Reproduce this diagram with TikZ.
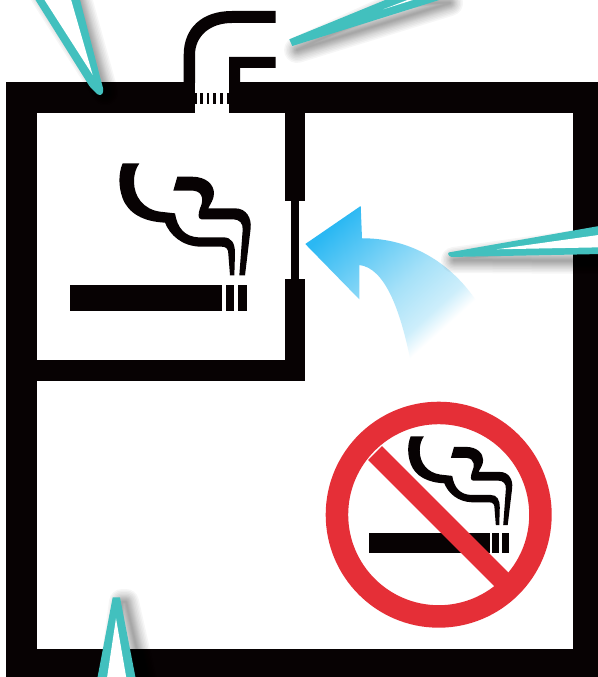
\documentclass[tikz,border=0pt]{standalone}
\definecolor{airA}{HTML}{2BB8F3}
\definecolor{airB}{HTML}{A6E1F8}
\definecolor{airC}{HTML}{CDEEFB}
\definecolor{wallk}{HTML}{070203}
\definecolor{teal}{HTML}{42C0BE}
\definecolor{signred}{HTML}{E52F37}
\pgfdeclarehorizontalshading{airflow}{240bp}{color(0bp)=(airA); color(25bp)=(airA); color(115bp)=(airB); color(155bp)=(airC); color(175bp)=(white); color(200bp)=(white)}
\tikzset{
  wall/.style={fill=wallk},
  tealpart/.style={fill=teal,rounded corners=1.5bp},
  soft/.style={draw=black,draw opacity=0.035,line join=round},
}
\newcommand{\softshadow}[1]{%
  \foreach \w in {26,23,20,17,14,12,10,8,6,4,2}{\path[soft,line width=\w bp] #1;}%
}
\newcommand{\smokeicon}{%
  \fill[wall] (30,405) rectangle (487,482);
  \fill[wall] (497,405) rectangle (522,482);
  \fill[wall] (535,405) rectangle (560,482);
  \fill[wall] (188,40) .. controls (175,70) and (175,110) .. (188,145)
    .. controls (205,190) and (250,215) .. (315,218)
    .. controls (330,255) and (365,288) .. (420,290) -- (485,290)
    .. controls (500,290) and (505,298) .. (505,312) -- (510,376) -- (523,376)
    -- (525,310) .. controls (525,280) and (515,262) .. (490,262) -- (415,262)
    .. controls (375,260) and (352,235) .. (345,190) -- (300,185)
    .. controls (250,178) and (222,140) .. (222,95)
    .. controls (222,70) and (228,55) .. (238,40) -- cycle;
  \fill[wall] (352,80) -- (395,80) .. controls (440,80) and (462,105) .. (462,130)
    .. controls (462,150) and (450,162) .. (445,175) -- (525,175)
    .. controls (560,175) and (575,205) .. (572,235) -- (555,376) -- (538,376)
    -- (548,240) .. controls (550,220) and (538,208) .. (520,208) -- (425,208)
    .. controls (412,208) and (415,190) .. (420,175)
    .. controls (430,155) and (432,125) .. (400,122) -- (340,122) -- cycle;
}
\begin{document}
\begin{tikzpicture}[x=1bp,y=-1bp]
\clip (0,0) rectangle (598,677);
\fill[white] (0,0) rectangle (598,677);
% walls
\fill[wall] (6,82) rectangle (610,690);
\fill[white] (37,113) rectangle (285,360);
\fill[white] (305,113) rectangle (573,381);
\fill[white] (37,381) rectangle (573,649);
% door
\fill[white] (284,201) rectangle (305,279);
\fill[wall] (291,201) rectangle (299,279);
% duct
\fill[white] (195,81) rectangle (229,114);
\fill[wall] (183.7,83) -- (183.7,55) .. controls (183.7,28) and (202,11) .. (232,11)
  -- (275.5,11) -- (275.5,23) -- (232,23) .. controls (210,23) and (195,36) .. (195,55) -- (195,83) -- cycle;
\fill[wall] (229,83) -- (229,57) -- (275.5,57) -- (275.5,68) -- (240,68) -- (240,83) -- cycle;
\foreach \a/\b in {195/197,200/202.7,206.7/209,213.3/216,220/222.7,226.7/229}
  \fill[wall] (\a,93) rectangle (\b,104.5);
% air arrow
\begin{scope}
  \clip (305.3,244) -- (360.7,206) -- (362,238.3)
    .. controls (412,238) and (452,264) .. (477,302)
    -- (410,358) .. controls (400,310) and (385,268) .. (359.3,265)
    -- (359.3,299.3) -- cycle;
  \node[inner sep=0pt,rotate=-48] (air) at (385,280) {\pgfuseshading{airflow}};
\end{scope}
% smoking-room icon
\begin{scope}[shift={(60,150)},scale=0.33333]
  \smokeicon
\end{scope}
% no-smoking sign
\begin{scope}[shift={(361.07,425.7)},scale=0.2642]
  \smokeicon
\end{scope}
\begin{scope}
  \clip (438.7,514.7) circle (101);
  \draw[signred,line width=19.5bp] (375,453) -- (503,581);
\end{scope}
\draw[signred,line width=22.5bp] (438.7,514.7) circle (101.75);
% callouts
\softshadow{(43,-5) -- (78,-5) -- (105,92) -- cycle}
\softshadow{(122,602) -- (126,602) -- (146,690) -- (110,690) -- cycle}
\softshadow{(454,260) -- (610,238) -- (610,261) -- cycle}
\softshadow{(297,50) -- (400,3) -- (450,3) -- cycle}
\fill[tealpart] (33,-4) -- (79,-4) -- (103.5,90) -- (102,95) -- (98,95) -- (90,87) -- cycle;
\fill[white] (42,-4) -- (70,-4) -- (92.7,75) -- cycle;
\fill[teal] (112.7,597.3) -- (120,597.3) -- (136,680) -- (97,680) -- cycle;
\fill[white] (116,618.3) -- (126.7,680) -- (106.7,680) -- cycle;
\fill[tealpart] (447.3,252.7) -- (602,225.5) -- (602,254) -- (450,257) -- cycle;
\fill[white] (496.7,249.3) -- (602,234.5) -- (602,247.3) -- cycle;
\fill[teal] (289.3,39.3) -- (395,-4) -- (452,-4) -- (292.3,46) -- cycle;
\fill[white] (383.3,9.3) -- (410,-1) -- (416,-1) -- cycle;
\end{tikzpicture}
\end{document}
